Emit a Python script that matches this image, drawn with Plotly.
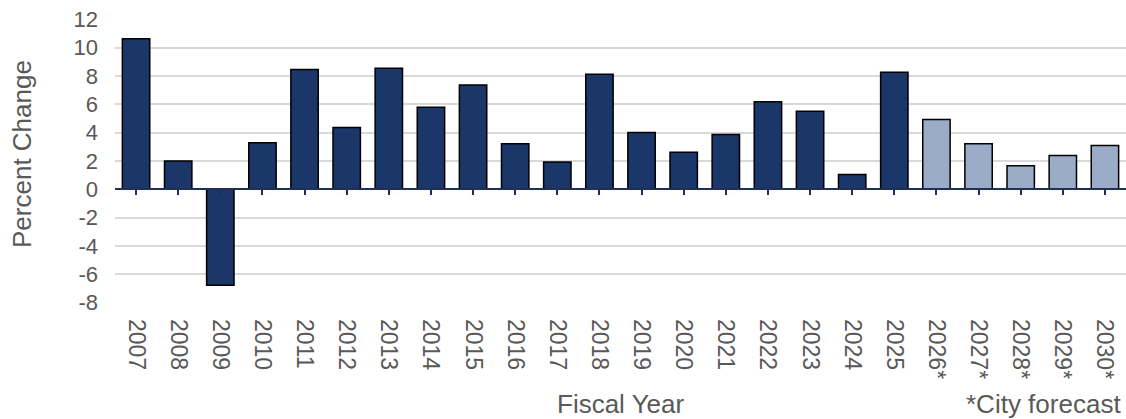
import plotly.graph_objects as go

# Fiscal years; starred years are city forecasts
fiscal_years = ["2007", "2008", "2009", "2010", "2011", "2012", "2013", "2014",
                "2015", "2016", "2017", "2018", "2019", "2020", "2021", "2022",
                "2023", "2024", "2025", "2026*", "2027*", "2028*", "2029*", "2030*"]
percent_change = [10.63, 2.0, -6.77, 3.29, 8.46, 4.37, 8.55, 5.80,
                  7.36, 3.22, 1.93, 8.13, 4.02, 2.61, 3.88, 6.18,
                  5.52, 1.04, 8.27, 4.94, 3.22, 1.67, 2.38, 3.10]
is_forecast = [y.endswith("*") for y in fiscal_years]

y_ticks = list(range(-8, 13, 2))
y_tick_text = [str(v) for v in y_ticks]  # plain hyphen for negatives

ACTUAL = "#1B3668"
FORECAST = "#9AACC8"
TEXT = "#595959"
FONT = "Arial, Liberation Sans, sans-serif"

fig = go.Figure()
fig.add_trace(go.Bar(
    x=fiscal_years,
    y=percent_change,
    marker=dict(color=[FORECAST if f else ACTUAL for f in is_forecast],
                line=dict(color="#000000", width=1.5)),
    hoverinfo="x+y",
))
# helper trace so the zero-crossing category axis gets drawn
fig.add_trace(go.Scatter(x=fiscal_years, y=[0] * len(fiscal_years),
                         xaxis="x2", mode="markers", opacity=0,
                         hoverinfo="skip", showlegend=False))

M_L, M_T, M_B = 115, 19, 116
y_min, y_max = -8, 12
x_range = [-0.5, len(fiscal_years) - 0.5]

fig.update_layout(
    width=1126, height=419,
    margin=dict(l=M_L, r=0, t=M_T, b=M_B),
    plot_bgcolor="white", paper_bgcolor="white",
    showlegend=False,
    bargap=0.35,
    font=dict(family=FONT, color=TEXT),
    xaxis=dict(
        type="category",
        range=x_range,
        tickangle=90,
        tickfont=dict(size=23, color=TEXT),
        ticks="",
        showgrid=False, showline=False, zeroline=False,
        ticklabelstandoff=15,
    ),
    xaxis2=dict(
        type="category",
        matches="x",
        overlaying="x",
        anchor="free",
        position=(0 - y_min) / (y_max - y_min),
        showticklabels=False,
        ticks="outside", ticklen=5, tickwidth=1.5, tickcolor="#1F2F55",
        showline=True, linecolor="#1F2F55", linewidth=1.5,
        showgrid=False, zeroline=False,
    ),
    yaxis=dict(
        range=[y_min - 0.03, y_max + 0.03],
        tickvals=y_ticks,
        ticktext=y_tick_text,
        tickfont=dict(size=22, color=TEXT),
        showgrid=True, gridcolor="#D9D9D9", gridwidth=1.6,
        zeroline=False, showline=False, ticks="",
        ticklabelstandoff=16,
    ),
)

plot_h = 419 - M_T - M_B
plot_w = 1126 - M_L


def px_to_paper_y(py):
    return (419 - M_B - py) / plot_h


def px_to_paper_x(px):
    return (px - M_L) / plot_w


fig.add_annotation(text="Fiscal Year", xref="paper", yref="paper",
                   x=0.5, y=px_to_paper_y(404), xanchor="center", yanchor="middle",
                   showarrow=False, font=dict(size=26, color=TEXT))
fig.add_annotation(text="*City forecast", xref="paper", yref="paper",
                   x=px_to_paper_x(1123), y=px_to_paper_y(404), xanchor="right",
                   yanchor="middle", showarrow=False, font=dict(size=26, color=TEXT))
fig.add_annotation(text="Percent Change", xref="paper", yref="paper",
                   x=px_to_paper_x(22), y=px_to_paper_y(154), xanchor="center",
                   yanchor="middle", textangle=-90, showarrow=False,
                   font=dict(size=26, color=TEXT))

fig.write_html("out.html")
